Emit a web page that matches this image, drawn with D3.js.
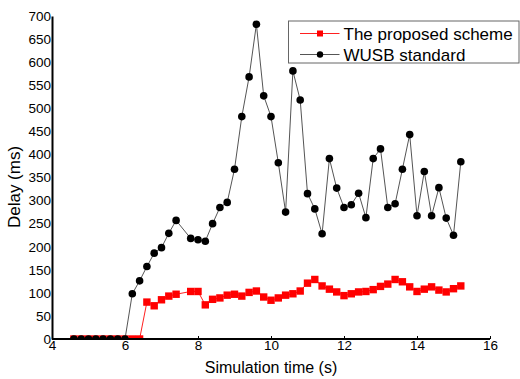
<!DOCTYPE html>
<html>
<head>
<meta charset="utf-8">
<script src="https://cdn.jsdelivr.net/npm/d3@7"></script>
<style>
  body { margin: 0; background: #fff; }
  svg { display: block; font-family: "Liberation Sans", Arial, sans-serif; }
</style>
</head>
<body>
<svg class="chart" width="520" height="379"></svg>
<script>
// simulation time (s), same sample points for both series (no sample at 7.6)
var times = [4.6, 4.8, 5.0, 5.2, 5.4, 5.6, 5.8, 6.0, 6.2, 6.4, 6.6, 6.8, 7.0, 7.2, 7.4,
  7.8, 8.0, 8.2, 8.4, 8.6, 8.8, 9.0, 9.2, 9.4, 9.6, 9.8, 10.0, 10.2, 10.4, 10.6, 10.8,
  11.0, 11.2, 11.4, 11.6, 11.8, 12.0, 12.2, 12.4, 12.6, 12.8, 13.0, 13.2, 13.4, 13.6,
  13.8, 14.0, 14.2, 14.4, 14.6, 14.8, 15.0, 15.2];

var proposedDelay = [0, 0, 0, 0, 0, 0, 0, 0, 0, 0, 80, 72, 85, 93, 97,
  103, 103, 74, 86, 89, 95, 97, 93, 101, 104, 91, 84, 89, 95, 98, 104,
  121, 129, 115, 108, 102, 94, 98, 102, 103, 107, 114, 119, 129, 124,
  113, 103, 108, 113, 106, 102, 109, 115];

var wusbDelay = [0, 0, 0, 0, 0, 0, 0, 0, 98, 126, 157, 186, 198, 229, 257,
  218, 215, 212, 250, 285, 296, 368, 482, 568, 682, 527, 482, 382, 275, 581, 518,
  315, 282, 228, 391, 327, 285, 291, 316, 263, 391, 412, 285, 293, 368,
  443, 267, 363, 267, 328, 262, 225, 384];

var xTicks = [4, 6, 8, 10, 12, 14, 16];
var yTicks = [0, 50, 100, 150, 200, 250, 300, 350, 400, 450, 500, 550, 600, 650, 700];

var seriesNames = ["The proposed scheme", "WUSB standard"];

var margin = {top: 16, right: 30, bottom: 40, left: 52},
    sWidth = 520, sHeight = 379,
    chart = d3.select("svg.chart");

var xScale = d3.scaleLinear().domain([4, 16]).range([margin.left, sWidth - margin.right]);
var yScale = d3.scaleLinear().domain([0, 700]).range([sHeight - margin.bottom, margin.top]);

var proposed = times.map(function(t, i) { return {x: t, y: proposedDelay[i]}; });
var wusb = times.map(function(t, i) { return {x: t, y: wusbDelay[i]}; });

chart.append("defs").append("clipPath").attr("id", "plotClip")
  .append("rect")
  .attr("x", margin.left)
  .attr("y", 0)
  .attr("width", sWidth - margin.right - margin.left + 5)
  .attr("height", yScale(0) - 0.5);

var line = d3.line()
  .x(function(d) { return xScale(d.x); })
  .y(function(d) { return yScale(d.y); });

var plot = chart.append("g").attr("clip-path", "url(#plotClip)");

// red series
plot.append("path")
  .datum(proposed)
  .attr("d", line)
  .attr("fill", "none")
  .attr("stroke", "#ff2020")
  .attr("stroke-width", 1);

plot.selectAll("rect.prop")
  .data(proposed)
  .enter()
  .append("rect")
  .attr("class", "prop")
  .attr("width", 7.4)
  .attr("height", 7.4)
  .attr("x", function(d) { return xScale(d.x) - 3.7; })
  .attr("y", function(d) { return yScale(d.y) - 3.7; })
  .attr("fill", "#ff0000");

// black series
plot.append("path")
  .datum(wusb)
  .attr("d", line)
  .attr("fill", "none")
  .attr("stroke", "#555")
  .attr("stroke-width", 1);

plot.selectAll("circle.wusb")
  .data(wusb)
  .enter()
  .append("circle")
  .attr("class", "wusb")
  .attr("r", 3.8)
  .attr("cx", function(d) { return xScale(d.x); })
  .attr("cy", function(d) { return yScale(d.y); })
  .attr("fill", "#000");

// axes
var xAxis = d3.axisBottom(xScale).tickValues(xTicks).tickSize(-3).tickPadding(1)
  .tickFormat(d3.format("d"));
var yAxis = d3.axisLeft(yScale).tickValues(yTicks).tickSize(0).tickPadding(1)
  .tickFormat(d3.format("d"));

chart.append("g").attr("id", "xAxisG")
  .attr("transform", "translate(0," + yScale(0) + ")")
  .call(xAxis);

chart.append("g").attr("id", "yAxisG")
  .attr("transform", "translate(" + margin.left + ",0)")
  .call(yAxis);

chart.selectAll("#xAxisG path.domain, #yAxisG path.domain")
  .attr("stroke", "#000").attr("stroke-width", 2);
chart.selectAll("#xAxisG text, #yAxisG text")
  .attr("font-size", 13.5).attr("fill", "#000")
  .attr("font-family", "Liberation Sans, Arial, sans-serif");
chart.selectAll("#xAxisG text").attr("dy", "0.75em");
chart.selectAll("#xAxisG path.domain").attr("d", "M" + xScale(4) + ",0H" + xScale(16));

// axis titles
chart.append("text")
  .attr("x", 271)
  .attr("y", 373)
  .attr("text-anchor", "middle")
  .attr("font-size", 16)
  .text("Simulation time (s)");

chart.append("text")
  .attr("transform", "translate(20,187) rotate(-90)")
  .attr("text-anchor", "middle")
  .attr("font-size", 17)
  .text("Delay (ms)");

// legend
var legend = chart.append("g").attr("transform", "translate(288.5,21)");
legend.append("rect")
  .attr("width", 230.5).attr("height", 42)
  .attr("fill", "#fff").attr("stroke", "#666").attr("stroke-width", 1);

var rows = legend.selectAll("g.row")
  .data(seriesNames)
  .enter()
  .append("g")
  .attr("class", "row")
  .attr("transform", function(d, i) { return "translate(0," + (12.5 + i * 21) + ")"; });

rows.append("line")
  .attr("x1", 11.5).attr("x2", 51)
  .attr("stroke", function(d, i) { return i === 0 ? "#ff2020" : "#555"; })
  .attr("stroke-width", 1);

rows.filter(function(d, i) { return i === 0; })
  .append("rect")
  .attr("x", 28.5).attr("y", -3).attr("width", 6).attr("height", 6)
  .attr("fill", "#ff0000");

rows.filter(function(d, i) { return i === 1; })
  .append("circle")
  .attr("cx", 31.5).attr("r", 3.2)
  .attr("fill", "#000");

rows.append("text")
  .attr("x", 55)
  .attr("dy", "0.36em")
  .attr("font-size", 17)
  .text(function(d) { return d; });
</script>
</body>
</html>
